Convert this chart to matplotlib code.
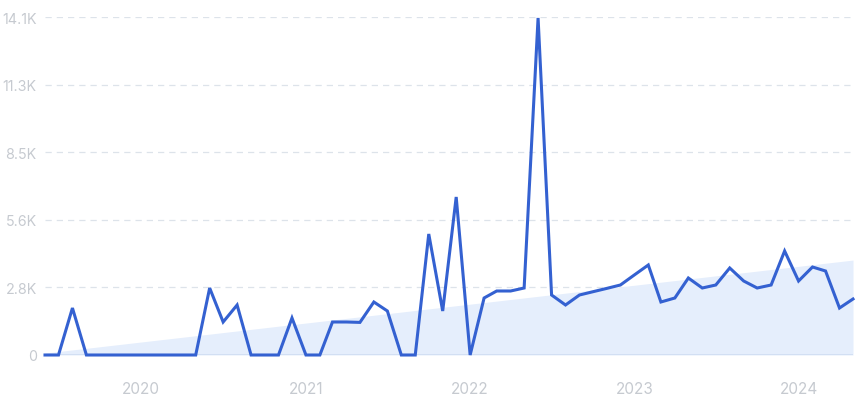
import numpy as np
import pandas as pd
import matplotlib
matplotlib.use("Agg")
import matplotlib.pyplot as plt
import matplotlib.dates as mdates
from matplotlib.ticker import FixedLocator

plt.rcParams["font.family"] = ["Inter", "DejaVu Sans"]

# 月度数据（2019-06 至 2024-05）
months = pd.date_range("2019-06-01", "2024-05-01", freq="MS")
values = [
    0, 0, 1960, 0, 0, 0, 0, 0, 0, 0, 0, 0,
    2795, 1377, 2086, 0, 0, 0, 1544, 0, 0, 1377, 1377, 1360,
    2211, 1836, 0, 0, 5048, 1836, 6592, 0, 2378, 2670, 2670, 2795,
    14060, 2503, 2086, 2503, 2640, 2780, 2920, 3340, 3755, 2211, 2378, 3212,
    2795, 2920, 3630, 3087, 2795, 2920, 4339, 3087, 3671, 3504, 1960, 2336,
]
# 趋势线首尾值
trend_ends = [80, 3960]

y_ticks = [0, 2820, 5640, 8460, 11280, 14100]
y_labels = ["0", "2.8K", "5.6K", "8.5K", "11.3K", "14.1K"]
year_ticks = ["2020", "2021", "2022", "2023", "2024"]

fig = plt.figure(figsize=(8.63, 4.02), dpi=100)
ax = fig.add_axes([45 / 863, 1 - 356 / 402, 808 / 863, 338 / 402])

# 趋势区域
x_num = mdates.date2num(months)
trend = np.interp(x_num, [x_num[0], x_num[-1]], trend_ends)
ax.fill_between(months, 0, trend, color="#e5eefc", lw=0, zorder=1)

# 网格线
for t in y_ticks[1:]:
    ax.axhline(t, color="#dde3ea", lw=0.9, ls=(0, (5, 4)), zorder=0)
ax.axhline(0, color="#cfdcf2", lw=1.2, zorder=2)

ax.plot(months, values, color="#3461d1", lw=2.2, solid_joinstyle="miter",
        zorder=3, clip_on=False)

ax.set_xlim(months[0], months[-1])
ax.set_ylim(0, 14100)
ax.yaxis.set_major_locator(FixedLocator(y_ticks))
ax.set_yticklabels(y_labels)
ax.set_xticks([pd.Timestamp(f"{y}-01-01") for y in year_ticks])
ax.set_xticklabels(year_ticks)

for s in ax.spines.values():
    s.set_visible(False)
ax.tick_params(axis="both", length=0, colors="#c6cad0")
ax.tick_params(axis="y", pad=6, labelsize=10.3)
ax.tick_params(axis="x", pad=19, labelsize=11)

fig.savefig("out.png", dpi=100)
